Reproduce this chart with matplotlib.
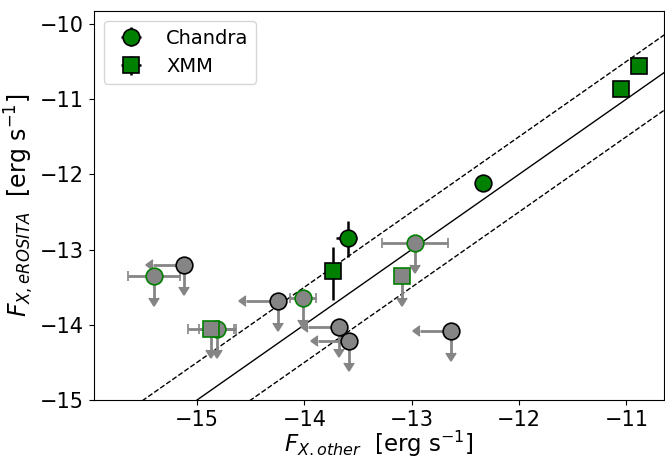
import numpy as np
import matplotlib
matplotlib.use("Agg")
import matplotlib.pyplot as plt

# Detections
chandra_x = [-13.59, -12.34]
chandra_y = [-12.85, -12.11]
chandra_xerr_lo = [0.12, 0.04]
chandra_xerr_hi = [0.08, 0.04]
chandra_yerr_lo = [0.245, 0.05]
chandra_yerr_hi = [0.23, 0.05]

xmm_x = [-13.73, -11.05, -10.88]
xmm_y = [-13.29, -10.87, -10.56]
xmm_xerr = [0.02, 0.02, 0.02]
xmm_yerr_lo = [0.38, 0.02, 0.02]
xmm_yerr_hi = [0.32, 0.02, 0.02]

# Upper limits in both axes (black-edged grey circles)
ul_x = [-15.12, -14.25, -13.68, -13.58, -12.63]
ul_y = [-13.21, -13.69, -14.03, -14.22, -14.08]

# Chandra eROSITA upper limits (green-edged grey circles)
cul_x = [-15.40, -14.01, -14.81, -12.97]
cul_y = [-13.35, -13.65, -14.05, -12.92]
cul_xerr = [0.245, 0.12, 0.17, 0.31]

# XMM eROSITA upper limits (green-edged grey squares)
xul_x = [-14.87, -13.09]
xul_y = [-14.05, -13.35]
xul_xerr = [0.21, 0.0]

lim_len = 0.29
offset = 0.5

fig = plt.figure(figsize=(6.65, 4.59), dpi=100)
ax = fig.add_axes([94/665, 59/459, 570/665, 389/459])

xlim = (-15.96, -10.65)
ylim = (-15.0, -9.83)

# 1:1 and +-0.5 lines
xx = np.array([-17.0, -9.0])
ax.plot(xx, xx, color='black', lw=1, zorder=1)
ax.plot(xx, xx + offset, color='black', lw=1, ls='--', zorder=1)
ax.plot(xx, xx - offset, color='black', lw=1, ls='--', zorder=1)

grey = '#858585'
ms = 12
cs = 3.6
lw_e = 2.0
ct = 2.6

common = dict(ms=ms, mfc=grey, mew=1.2, color=grey, ecolor=grey,
              elinewidth=lw_e, capsize=cs, capthick=ct, zorder=2)

# grey upper limits with left & down arrows
n = len(ul_x)
ax.errorbar(ul_x, ul_y, xerr=[lim_len]*n, yerr=[lim_len]*n,
            xuplims=[True]*n, uplims=[True]*n,
            fmt='o', mec='black', **common)

# Chandra upper limits (green edge)
n = len(cul_x)
ax.errorbar(cul_x, cul_y, xerr=cul_xerr, yerr=[lim_len]*n,
            uplims=[True]*n, fmt='o', mec='green', **common)

# XMM upper limits (green edge squares)
n = len(xul_x)
ax.errorbar(xul_x, xul_y, xerr=xul_xerr, yerr=[lim_len]*n,
            uplims=[True]*n, fmt='s', mec='green', **common)

# Detections
ax.errorbar(chandra_x, chandra_y,
            xerr=[chandra_xerr_lo, chandra_xerr_hi],
            yerr=[chandra_yerr_lo, chandra_yerr_hi],
            fmt='o', ms=ms, mfc='green', mec='black', mew=1.2, color='green',
            ecolor='black', elinewidth=1.8, capsize=0, zorder=3, label='Chandra')
ax.errorbar(xmm_x, xmm_y, xerr=xmm_xerr,
            yerr=[xmm_yerr_lo, xmm_yerr_hi],
            fmt='s', ms=ms, mfc='green', mec='black', mew=1.2, color='green',
            ecolor='black', elinewidth=1.8, capsize=0, zorder=3, label='XMM')

ax.set_xlim(*xlim)
ax.set_ylim(*ylim)
ax.set_xticks([-15, -14, -13, -12, -11])
ax.set_yticks([-15, -14, -13, -12, -11, -10])
ax.tick_params(labelsize=15)
ax.set_xlabel(r'$F_{X.other}$  [erg s$^{-1}$]', fontsize=16.5, labelpad=-1)
ax.set_ylabel(r'$F_{X,eROSITA}$  [erg s$^{-1}$]', fontsize=17, labelpad=3)
ax.legend(loc='upper left', fontsize=14)

fig.savefig('out.png', dpi=100)
